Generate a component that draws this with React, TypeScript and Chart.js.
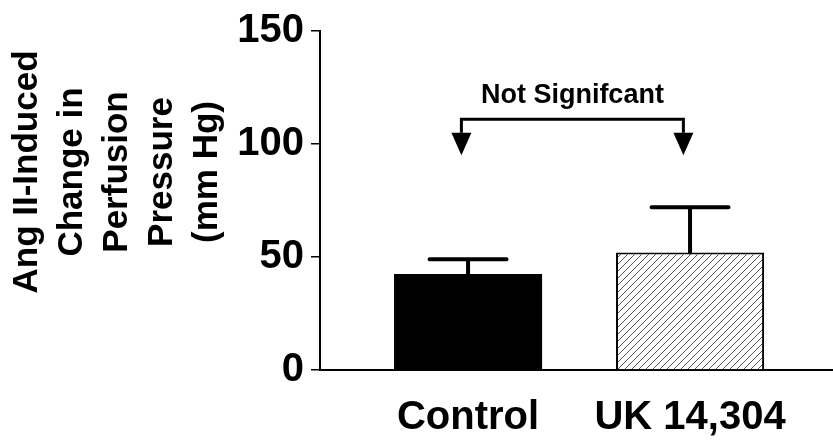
import React, { useEffect, useRef } from "react";
import { Chart, registerables } from "chart.js";

Chart.register(...registerables);

const categories = ["Control", "UK 14,304"];
const means = [42.5, 52];
const sems = [6.5, 20];
const yTicks = [0, 50, 100, 150];
const yTitleLines = ["Ang II-Induced", "Change in", "Perfusion", "Pressure", "(mm Hg)"];
const annotationText = "Not Signifcant";
const bracketY = 111;
const arrowBaseY = 105;
const arrowTipY = 95;
const annotationTextY = 118;

const FONT = "'Liberation Sans', Arial, sans-serif";

function makeHatch(): CanvasPattern | string {
  const s = 7;
  const c = document.createElement("canvas");
  c.width = s;
  c.height = s;
  const g = c.getContext("2d");
  if (!g) return "#fff";
  g.fillStyle = "#fff";
  g.fillRect(0, 0, s, s);
  g.strokeStyle = "#555";
  g.lineWidth = 1;
  g.beginPath();
  g.moveTo(0, s);
  g.lineTo(s, 0);
  g.moveTo(-1, 1);
  g.lineTo(1, -1);
  g.moveTo(s - 1, s + 1);
  g.lineTo(s + 1, s - 1);
  g.stroke();
  const p = g.createPattern(c, "repeat");
  return p || "#fff";
}

const errorBarPlugin = {
  id: "errorBars",
  afterDatasetsDraw(chart: any) {
    const ctx = chart.ctx;
    const meta = chart.getDatasetMeta(0);
    const y = chart.scales.y;
    ctx.save();
    ctx.strokeStyle = "#000";
    ctx.lineWidth = 4;
    ctx.lineCap = "round";
    meta.data.forEach((bar: any, i: number) => {
      const top = y.getPixelForValue(means[i] + sems[i]);
      const base = y.getPixelForValue(means[i]);
      const half = bar.width * 0.26;
      ctx.beginPath();
      ctx.moveTo(bar.x, base);
      ctx.lineTo(bar.x, top);
      ctx.moveTo(bar.x - half, top);
      ctx.lineTo(bar.x + half, top);
      ctx.stroke();
    });
    ctx.restore();
  },
};

const annotationPlugin = {
  id: "nsAnnotation",
  afterDraw(chart: any) {
    const ctx = chart.ctx;
    const x = chart.scales.x;
    const y = chart.scales.y;
    const shift = -0.03;
    const x1 = x.getPixelForValue(0 + shift);
    const x2 = x.getPixelForValue(1 + shift);
    const yb = y.getPixelForValue(bracketY);
    const ya = y.getPixelForValue(arrowBaseY);
    const yt = y.getPixelForValue(arrowTipY);
    ctx.save();
    ctx.strokeStyle = "#000";
    ctx.fillStyle = "#000";
    ctx.lineWidth = 3;
    ctx.beginPath();
    ctx.moveTo(x1, ya);
    ctx.lineTo(x1, yb);
    ctx.lineTo(x2, yb);
    ctx.lineTo(x2, ya);
    ctx.stroke();
    [x1, x2].forEach((xx) => {
      ctx.beginPath();
      ctx.moveTo(xx - 10, ya);
      ctx.lineTo(xx + 10, ya);
      ctx.lineTo(xx, yt);
      ctx.closePath();
      ctx.fill();
    });
    ctx.font = `bold 27px ${FONT}`;
    ctx.textAlign = "center";
    ctx.textBaseline = "alphabetic";
    ctx.fillText(annotationText, (x1 + x2) / 2, y.getPixelForValue(annotationTextY));
    ctx.restore();
  },
};

const yTitlePlugin = {
  id: "yTitle",
  afterDraw(chart: any) {
    const ctx = chart.ctx;
    ctx.save();
    ctx.fillStyle = "#000";
    ctx.font = `bold 35px ${FONT}`;
    ctx.textAlign = "center";
    ctx.textBaseline = "alphabetic";
    yTitleLines.forEach((line, i) => {
      ctx.save();
      ctx.translate(37 + i * 45, 172);
      ctx.rotate(-Math.PI / 2);
      ctx.fillText(line, 0, 0);
      ctx.restore();
    });
    ctx.restore();
  },
};

export default function App() {
  const ref = useRef<HTMLCanvasElement | null>(null);
  useEffect(() => {
    document.body.style.margin = "0";
    if (!ref.current) return;
    const hatch = makeHatch();
    const chart = new Chart(ref.current, {
      type: "bar",
      data: {
        datasets: [
          {
            data: means.map((v, i) => ({ x: i, y: v })),
            backgroundColor: ["#000", hatch as any],
            borderColor: ["#000", "#000"],
            borderWidth: [0, 2],
            barPercentage: 0.667,
            categoryPercentage: 1,
          },
        ],
      },
      options: {
        responsive: false,
        animation: false,
        events: [],
        layout: { autoPadding: false, padding: { top: 25, right: 0, left: 0, bottom: 0 } },
        plugins: { legend: { display: false }, tooltip: { enabled: false }, title: { display: false } },
        scales: {
          x: {
            type: "linear",
            offset: false,
            bounds: "data",
            min: -0.667,
            max: 1.644,
            afterBuildTicks: (scale: any) => {
              scale.ticks = categories.map((_, i) => ({ value: i }));
            },
            afterFit: (scale: any) => {
              scale.height = 74;
            },
            grid: { display: false, drawTicks: false, offset: false },
            border: { display: true, color: "#000", width: 2 },
            ticks: {
              color: "#000",
              padding: 24,
              maxRotation: 0,
              autoSkip: false,
              font: { family: FONT, size: 40, weight: "bold" },
              callback: (v: any) => categories[v] ?? "",
            },
          },
          y: {
            min: 0,
            max: 150,
            afterBuildTicks: (scale: any) => {
              scale.ticks = yTicks.map((v) => ({ value: v }));
            },
            afterFit: (scale: any) => {
              scale.width = 320;
            },
            grid: { drawOnChartArea: false, drawTicks: true, tickLength: 9, color: "#000", lineWidth: 1.5 },
            border: { display: true, color: "#000", width: 2 },
            ticks: {
              color: "#000",
              padding: 7,
              font: { family: FONT, size: 40, weight: "bold" },
            },
          },
        },
      },
      plugins: [errorBarPlugin, annotationPlugin, yTitlePlugin],
    });
    return () => chart.destroy();
  }, []);
  return (
    <div style={{ width: 833, height: 444, background: "#fff" }}>
      <canvas ref={ref} width={833} height={444} />
    </div>
  );
}
